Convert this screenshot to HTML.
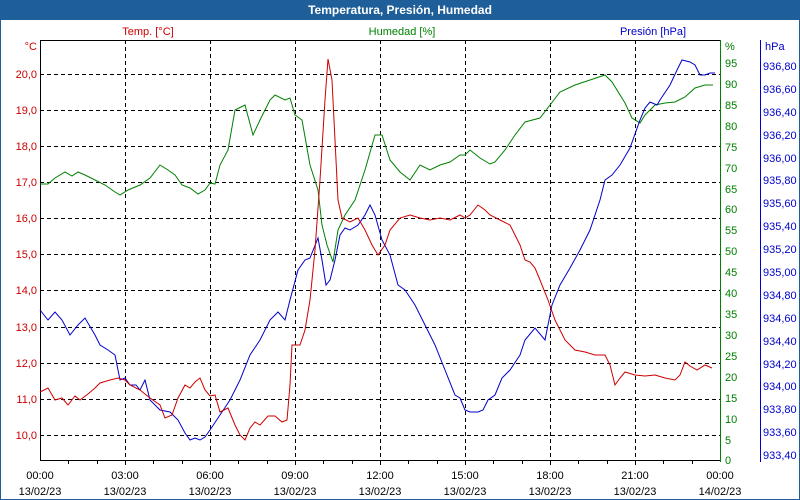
<!DOCTYPE html>
<html><head><meta charset="utf-8"><style>
body{margin:0;background:#fff;}
svg{display:block;font-family:"Liberation Sans",sans-serif;font-size:11px;}
</style></head><body>
<svg width="800" height="500" viewBox="0 0 800 500">
<rect x="0" y="0" width="800" height="500" fill="#fff"/>
<rect x="0.5" y="0.5" width="799" height="499" fill="none" stroke="#1f5f99"/>
<rect x="0" y="0" width="800" height="20" fill="#1f5f99"/>
<text x="400" y="14" text-anchor="middle" fill="#fff" font-weight="bold" font-size="12">Temperatura, Presión, Humedad</text>
<text x="148" y="35" text-anchor="middle" fill="#cc0000">Temp. [°C]</text>
<text x="402" y="35" text-anchor="middle" fill="#008000">Humedad [%]</text>
<text x="653" y="35" text-anchor="middle" fill="#0000cc">Presión [hPa]</text>
<g stroke="#000" stroke-dasharray="4,3" stroke-width="1">
<path d="M125.5 40V460M210.5 40V460M295.5 40V460M380.5 40V460M465.5 40V460M550.5 40V460M635.5 40V460"/>
<path d="M40 74.5H720M40 110.5H720M40 146.5H720M40 182.5H720M40 218.5H720M40 254.5H720M40 290.5H720M40 327.5H720M40 363.5H720M40 399.5H720M40 435.5H720"/>
</g>
<path d="M40 40.5H720" stroke="#000"/>
<path d="M40.5 40V461M40 460.5H720" stroke="#000"/>
<g stroke="#000"><path d="M68.5 460v4M97.5 460v4M125.5 460v5M153.5 460v4M182.5 460v4M210.5 460v5M238.5 460v4M267.5 460v4M295.5 460v5M323.5 460v4M352.5 460v4M380.5 460v5M408.5 460v4M437.5 460v4M465.5 460v5M493.5 460v4M522.5 460v4M550.5 460v5M578.5 460v4M607.5 460v4M635.5 460v5M663.5 460v4M692.5 460v4"/></g>
<path d="M720.5 40V462" stroke="#008000"/>
<path d="M760.5 40V462" stroke="#0000cc"/>
<g fill="#cc0000" text-anchor="end">
<text x="37" y="50">°C</text>
<text x="37" y="78">20,0</text><text x="37" y="114">19,0</text><text x="37" y="150">18,0</text><text x="37" y="186">17,0</text><text x="37" y="222">16,0</text><text x="37" y="258">15,0</text><text x="37" y="294">14,0</text><text x="37" y="331">13,0</text><text x="37" y="367">12,0</text><text x="37" y="403">11,0</text><text x="37" y="439">10,0</text>
</g>
<g fill="#008000">
<text x="725" y="50">%</text>
<text x="725" y="67">95</text><text x="725" y="88">90</text><text x="725" y="109">85</text><text x="725" y="130">80</text><text x="725" y="151">75</text><text x="725" y="172">70</text><text x="725" y="193">65</text><text x="725" y="213">60</text><text x="725" y="234">55</text><text x="725" y="255">50</text><text x="725" y="276">45</text><text x="725" y="297">40</text><text x="725" y="318">35</text><text x="725" y="339">30</text><text x="725" y="360">25</text><text x="725" y="381">20</text><text x="725" y="402">15</text><text x="725" y="423">10</text><text x="725" y="444">5</text><text x="725" y="464">0</text>
</g>
<g fill="#0000cc">
<text x="765" y="50">hPa</text>
<text x="763" y="70">936,80</text><text x="763" y="93">936,60</text><text x="763" y="116">936,40</text><text x="763" y="139">936,20</text><text x="763" y="162">936,00</text><text x="763" y="184">935,80</text><text x="763" y="207">935,60</text><text x="763" y="230">935,40</text><text x="763" y="253">935,20</text><text x="763" y="276">935,00</text><text x="763" y="299">934,80</text><text x="763" y="322">934,60</text><text x="763" y="345">934,40</text><text x="763" y="368">934,20</text><text x="763" y="390">934,00</text><text x="763" y="413">933,80</text><text x="763" y="436">933,60</text><text x="763" y="459">933,40</text>
</g>
<g fill="#000" text-anchor="middle">
<text x="40" y="479">00:00</text><text x="40" y="495">13/02/23</text>
<text x="125" y="479">03:00</text><text x="125" y="495">13/02/23</text>
<text x="210" y="479">06:00</text><text x="210" y="495">13/02/23</text>
<text x="295" y="479">09:00</text><text x="295" y="495">13/02/23</text>
<text x="380" y="479">12:00</text><text x="380" y="495">13/02/23</text>
<text x="465" y="479">15:00</text><text x="465" y="495">13/02/23</text>
<text x="550" y="479">18:00</text><text x="550" y="495">13/02/23</text>
<text x="635" y="479">21:00</text><text x="635" y="495">13/02/23</text>
<text x="720" y="479">00:00</text><text x="720" y="495">14/02/23</text>
</g>
<g fill="none" stroke-width="1">
<polyline stroke="#008000" points="40,184 48,184 55,178 65,172 72,176 78,172 85,175 95,180 105,185 115,192 120,195 128,190 140,185 150,178 160,165 168,170 175,175 182,185 190,188 198,194 205,190 210,183 215,184 220,165 228,150 235,110 245,105 253,135 260,120 270,100 275,95 285,100 290,98 295,115 302,120 310,165 318,190 322,225 327,245 333,262 338,230 345,215 355,200 365,170 375,135 382,135 390,160 400,172 410,180 420,165 430,170 440,165 450,162 460,155 465,155 470,150 480,158 490,164 495,162 505,150 515,135 525,122 540,118 550,105 560,92 575,85 590,80 605,75 612,82 625,103 632,118 640,123 645,115 655,105 665,103 675,102 685,97 695,88 705,85 713,85"/>
<polyline stroke="#0000cc" points="40,310 48,320 55,312 62,320 70,335 78,325 85,318 95,335 100,345 108,350 115,355 120,380 125,378 130,385 136,385 140,390 145,380 150,400 160,410 170,412 178,420 185,433 190,440 195,438 200,440 205,437 210,430 220,415 230,400 240,380 250,355 260,340 270,320 278,312 285,320 290,300 298,270 305,260 310,258 318,238 322,260 326,285 330,280 335,260 340,235 345,228 350,230 358,225 365,215 370,205 375,215 382,240 390,255 398,285 405,290 415,305 425,325 435,345 445,370 455,395 460,398 465,410 470,412 478,412 483,410 488,400 495,395 502,378 510,370 520,355 525,340 535,328 545,340 552,305 560,285 570,268 580,250 590,230 600,200 605,180 612,175 620,165 630,148 640,120 645,108 650,102 657,105 660,100 670,85 678,68 682,60 690,62 695,65 700,75 705,75 710,73 715,73"/>
<polyline stroke="#cc0000" points="40,392 48,388 55,400 62,398 68,405 75,396 80,400 88,394 95,388 100,383 110,380 118,378 125,380 130,385 140,390 150,398 160,405 165,418 172,415 178,398 185,385 190,388 195,382 200,378 205,390 210,396 215,395 220,412 228,408 235,425 240,435 245,440 250,428 255,422 260,425 268,416 275,416 282,422 287,420 290,385 292,345 300,345 305,330 310,300 315,250 320,180 325,100 328,59 332,80 335,140 338,200 342,218 350,222 358,218 365,230 372,245 378,255 385,245 390,230 400,218 410,215 420,218 430,220 440,218 450,220 460,215 465,218 470,215 478,205 485,210 490,215 500,220 510,225 520,245 525,260 530,262 535,268 540,280 548,300 555,320 565,340 575,350 585,352 595,355 605,355 610,365 615,385 620,378 625,372 635,375 645,376 655,375 665,378 675,380 680,375 685,362 690,366 697,370 705,365 712,368"/>
</g>
</svg>
</body></html>
